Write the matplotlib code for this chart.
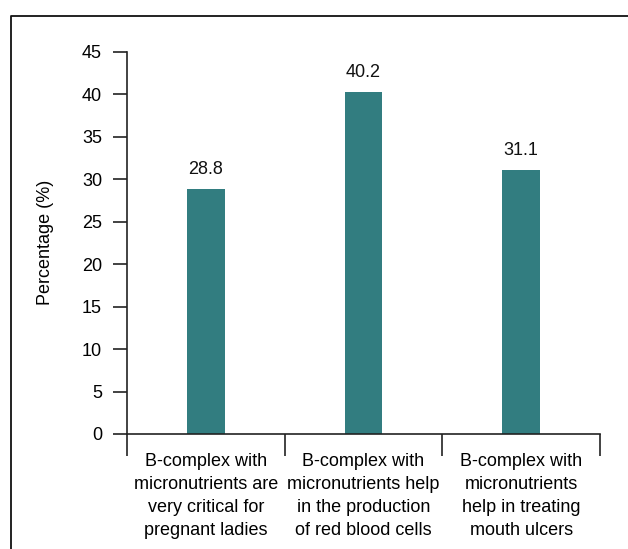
import matplotlib
matplotlib.use("Agg")
import matplotlib.pyplot as plt
from matplotlib.lines import Line2D

categories = [
    "B-complex with\nmicronutrients are\nvery critical for\npregnant ladies",
    "B-complex with\nmicronutrients help\nin the production\nof red blood cells",
    "B-complex with\nmicronutrients\nhelp in treating\nmouth ulcers",
]
values = [28.8, 40.2, 31.1]
value_labels = ["28.8", "40.2", "31.1"]
yticks = [0, 5, 10, 15, 20, 25, 30, 35, 40, 45]

plt.rcParams['font.family'] = ['Liberation Sans', 'DejaVu Sans']

W, H = 628, 549
fig = plt.figure(figsize=(W / 100, H / 100), dpi=100)
ax = fig.add_axes([127 / W, 1 - 434 / H, (600 - 127) / W, (434 - 51.7) / H])

color = "#327D80"
x = list(range(len(values)))
ax.bar(x, values, width=0.24, color=color)
for xi, v, lab in zip(x, values, value_labels):
    ax.annotate(lab, (xi, v), xytext=(0, 8), textcoords="offset points",
                ha="center", va="bottom", fontsize=13, color="#111111")

ax.set_xlim(-0.5, len(values) - 0.5)
ax.set_ylim(0, 45)
ax.set_yticks(yticks)
ax.set_yticklabels([str(t) for t in yticks], fontsize=13)
ax.tick_params(axis='y', length=10, width=1.2, pad=8, color="#222222")

# category boundary ticks on x
ax.set_xticks([-0.5, 0.5, 1.5, 2.5])
ax.set_xticklabels([])
ax.set_xticks(x, minor=True)
ax.set_xticklabels(categories, minor=True, fontsize=13, linespacing=1.47)
ax.tick_params(axis='x', which='major', length=16, width=1.2, color="#222222")
ax.tick_params(axis='x', which='minor', length=0, pad=13.5)

for s in ["top", "right"]:
    ax.spines[s].set_visible(False)
for s in ["left", "bottom"]:
    ax.spines[s].set_linewidth(1.2)
    ax.spines[s].set_color("#222222")

ax.set_ylabel("Percentage (%)", fontsize=13)
ax.yaxis.set_label_coords(-(127 - 54) / (600 - 127), 0.5)

# figure frame
fig.add_artist(Line2D([11 / W, 11 / W, 1.0], [0.0, 1 - 16 / H, 1 - 16 / H],
                      transform=fig.transFigure, color="#111111", lw=1.3))

fig.savefig("out.png", dpi=100)
